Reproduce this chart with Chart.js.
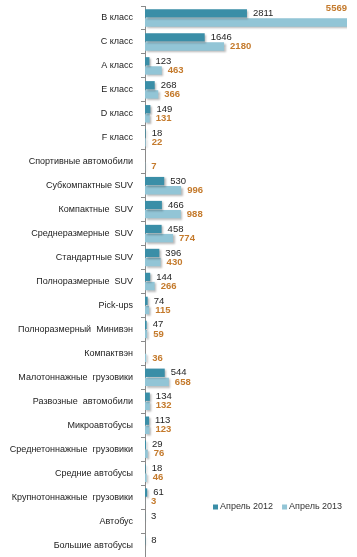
<!DOCTYPE html>
<html>
<head>
<meta charset="utf-8">
<script src="https://cdn.jsdelivr.net/npm/chart.js@4.4.0/dist/chart.umd.min.js"></script>
<style>
html,body{margin:0;padding:0;background:#fff;}
#wrap{position:relative;width:357px;height:557px;}
</style>
</head>
<body>
<div id="wrap"><canvas id="c"></canvas></div>
<script>
const categories = ['В класс','С класс','А класс','Е класс','D класс','F класс','Спортивные автомобили','Субкомпактные SUV','Компактные  SUV','Среднеразмерные  SUV','Стандартные SUV','Полноразмерные  SUV','Pick-ups','Полноразмерный  Минивэн','Компактвэн','Малотоннажные  грузовики','Развозные  автомобили','Микроавтобусы','Среднетоннажные  грузовики','Средние автобусы','Крупнотоннажные  грузовики','Автобус','Большие автобусы'];
const seriesNames = ['Апрель 2012','Апрель 2013'];
const apr2012 = [2811,1646,123,268,149,18,null,530,466,458,396,144,74,47,null,544,134,113,29,18,61,3,8];
const apr2013 = [5569,2180,463,366,131,22,7,996,988,774,430,266,115,59,36,658,132,123,76,46,3,null,null];

const COL12 = '#3a8ea7';
const COL13 = '#92c5d6';
const LBL12 = '#1e1e1e';
const LBL13 = '#c47a2c';
const FONT = '"Liberation Sans", Arial, sans-serif';

const shadowPlugin = {
  id:'shadow',
  beforeDatasetsDraw(chart){
    const ctx = chart.ctx; ctx.save();
    ctx.shadowColor = 'rgba(0,0,0,0.28)';
    ctx.shadowOffsetX = 1.5; ctx.shadowOffsetY = 1.5; ctx.shadowBlur = 2;
  },
  afterDatasetsDraw(chart){ chart.ctx.restore(); }
};

const labelPlugin = {
  id:'labels',
  afterDraw(chart){
    const ctx = chart.ctx; const area = chart.chartArea;
    chart.data.datasets.forEach((ds, i) => {
      const meta = chart.getDatasetMeta(i);
      ctx.save();
      ctx.font = (i === 1 ? 'bold ' : '') + '9.5px ' + FONT;
      ctx.fillStyle = i === 1 ? LBL13 : LBL12;
      ctx.textBaseline = 'middle';
      meta.data.forEach((el, j) => {
        const v = ds.data[j];
        if (v === null || v === undefined) return;
        const t = String(v);
        const w = ctx.measureText(t).width;
        let x = el.x + 6, y = el.y;
        if (x + w > area.right) { x = area.right - w; y = el.y - el.height/2 - 10; }
        ctx.fillText(t, x, y);
      });
      ctx.restore();
    });
  }
};

const legendPlugin = {
  id:'customLegend',
  afterDraw(chart){
    const ctx = chart.ctx;
    ctx.save();
    ctx.font = '9px ' + FONT;
    ctx.textBaseline = 'middle';
    const y = 507;
    let x = 213;
    const cols = [COL12, COL13];
    seriesNames.forEach((name, i) => {
      ctx.fillStyle = cols[i];
      ctx.fillRect(x, y - 2.5, 5, 5);
      ctx.fillStyle = '#333';
      ctx.fillText(name, x + 7, y);
      x += 7 + ctx.measureText(name).width + 9;
    });
    ctx.restore();
  }
};

new Chart(document.getElementById('c'), {
  type:'bar',
  data:{
    labels: categories,
    datasets:[
      {label: seriesNames[0], data: apr2012, backgroundColor: COL12, categoryPercentage:0.76, barPercentage:0.92},
      {label: seriesNames[1], data: apr2013, backgroundColor: COL13, categoryPercentage:0.76, barPercentage:0.92}
    ]
  },
  options:{
    indexAxis:'y',
    responsive:true,
    maintainAspectRatio:false,
    animation:false,
    layout:{padding:{top:6,right:10,bottom:0,left:0}},
    plugins:{legend:{display:false}, tooltip:{enabled:false}},
    scales:{
      x:{display:false, min:0, max:5569},
      y:{
        afterFit(s){ s.width = 145; s.paddingTop = 0; s.paddingBottom = 0; },
        border:{display:true, color:'#8a8a8a', width:1},
        grid:{offset:true, drawOnChartArea:false, drawTicks:true, tickLength:4, color:'#8a8a8a'},
        ticks:{color:'#222', padding:8, font:{family:FONT, size:9}, autoSkip:false}
      }
    }
  },
  plugins:[shadowPlugin, labelPlugin, legendPlugin]
});
</script>
</body>
</html>
